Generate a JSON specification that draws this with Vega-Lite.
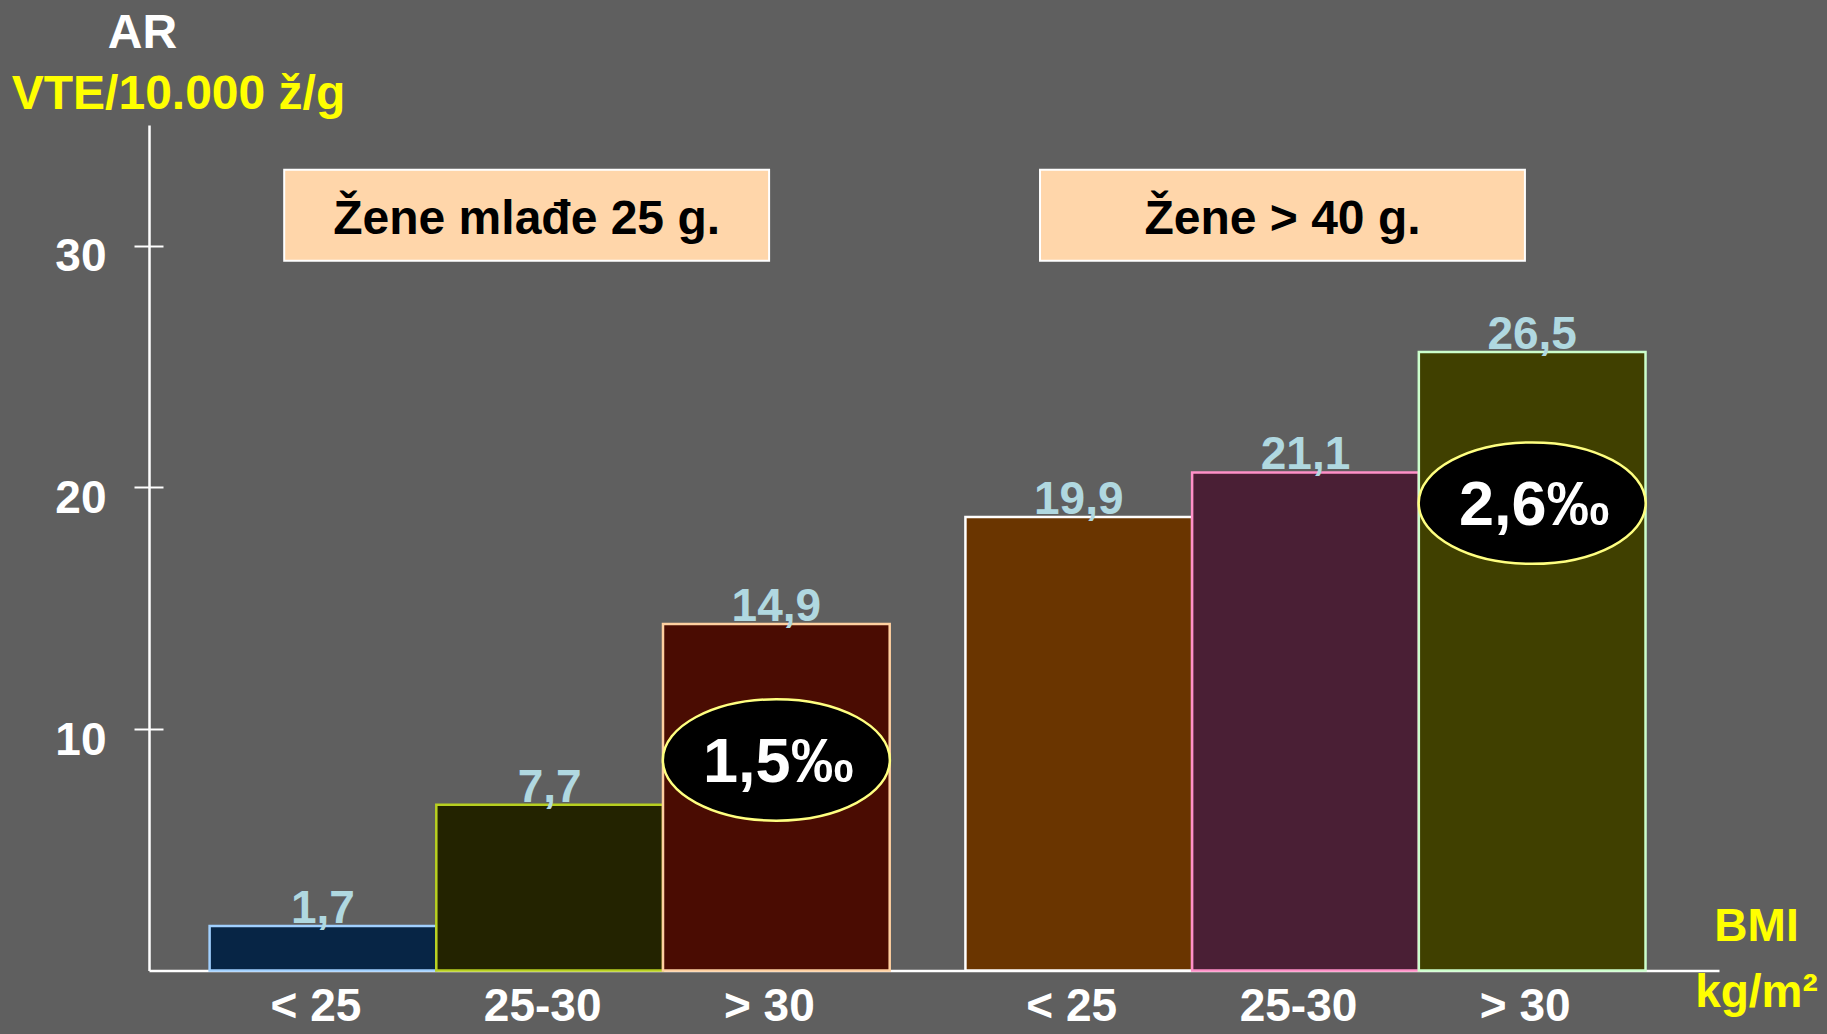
{
  "$schema": "https://vega.github.io/schema/vega-lite/v6.json",
  "width": 1570,
  "height": 845.6,
  "autosize": {"type": "none"},
  "padding": {"left": 149, "top": 125, "right": 108, "bottom": 63.4},
  "background": "#5f5f5f",
  "config": {
    "view": {"stroke": null},
    "font": "Liberation Sans",
    "text": {"font": "Liberation Sans", "fontWeight": "bold"}
  },
  "datasets": {
    "bars": [
      {"group": "Žene mlađe 25 g.", "bmi": "< 25", "value": 1.85, "label": "1,7"},
      {"group": "Žene mlađe 25 g.", "bmi": "25-30", "value": 6.86, "label": "7,7"},
      {"group": "Žene mlađe 25 g.", "bmi": "> 30", "value": 14.35, "label": "14,9"},
      {"group": "Žene > 40 g.", "bmi": "< 25", "value": 18.77, "label": "19,9"},
      {"group": "Žene > 40 g.", "bmi": "25-30", "value": 20.62, "label": "21,1"},
      {"group": "Žene > 40 g.", "bmi": "> 30", "value": 25.6, "label": "26,5"}
    ],
    "risks": [
      {"group": "Žene mlađe 25 g.", "bmi": "> 30", "y": 8.72, "risk": "1,5‰"},
      {"group": "Žene > 40 g.", "bmi": "> 30", "y": 19.35, "risk": "2,6‰"}
    ],
    "groups": [
      {"group": "Žene mlađe 25 g."},
      {"group": "Žene > 40 g."}
    ]
  },
  "encoding": {
    "x": {
      "field": "group",
      "type": "nominal",
      "sort": ["Žene mlađe 25 g.", "Žene > 40 g."],
      "scale": {"domain": ["Žene mlađe 25 g.", "Žene > 40 g."], "paddingInner": 0.1002, "paddingOuter": 0.0887, "align": 0.452},
      "axis": {
        "labels": false,
        "ticks": false,
        "domainColor": "#ffffff",
        "domainWidth": 2.5,
        "title": ["BMI", "kg/m²"],
        "titleColor": "#ffff00",
        "titleFont": "Liberation Sans",
        "titleFontWeight": "bold",
        "titleFontSize": 46,
        "titleAlign": "center",
        "titleBaseline": "alphabetic",
        "titleLineHeight": 66,
        "titleX": 1607,
        "titleY": -30
      }
    }
  },
  "resolve": {"axis": {"y": "independent"}},
  "layer": [
    {
      "data": {"name": "bars"},
      "mark": {"type": "bar", "strokeWidth": 2.5},
      "encoding": {
        "xOffset": {"field": "bmi", "type": "nominal", "scale": {"domain": ["< 25", "25-30", "> 30"], "paddingInner": 0, "paddingOuter": 0}},
        "y": {
          "field": "value",
          "type": "quantitative",
          "scale": {"domain": [0, 35], "nice": false, "zero": true},
          "axis": {
            "orient": "left",
            "values": [10, 20, 30],
            "grid": false,
            "domainColor": "#ffffff",
            "domainWidth": 2.5,
            "tickColor": "#ffffff",
            "tickWidth": 2,
            "tickSize": 15,
            "labelColor": "#ffffff",
            "labelFont": "Liberation Sans",
            "labelFontWeight": "bold",
            "labelFontSize": 46,
            "labelPadding": 28,
            "labelBaseline": "middle",
            "labelOffset": 11,
            "title": "VTE/10.000 ž/g",
            "titleColor": "#ffff00",
            "titleFont": "Liberation Sans",
            "titleFontWeight": "bold",
            "titleFontSize": 48,
            "titleAngle": 0,
            "titleAlign": "center",
            "titleBaseline": "alphabetic",
            "titleX": 29,
            "titleY": -17
          }
        },
        "fill": {
          "field": "label",
          "type": "nominal",
          "scale": {"domain": ["1,7", "7,7", "14,9", "19,9", "21,1", "26,5"], "range": ["#072545", "#232300", "#4a0c02", "#6a3500", "#4a1f35", "#404000"]},
          "legend": null
        },
        "stroke": {
          "field": "label",
          "type": "nominal",
          "scale": {"domain": ["1,7", "7,7", "14,9", "19,9", "21,1", "26,5"], "range": ["#a0d0ff", "#b8d020", "#ffd0a0", "#ffffff", "#ff90c8", "#ccffcc"]},
          "legend": null
        }
      }
    },
    {
      "data": {"name": "bars"},
      "mark": {"type": "text", "baseline": "alphabetic", "dy": -3, "fontSize": 46, "color": "#b0d8e0"},
      "encoding": {
        "xOffset": {"field": "bmi", "type": "nominal"},
        "y": {
          "field": "value",
          "type": "quantitative",
          "axis": {
            "orient": "left",
            "values": [10, 20, 30],
            "grid": false,
            "domain": false,
            "labels": false,
            "tickColor": "#ffffff",
            "tickWidth": 2,
            "tickSize": -14,
            "title": "AR",
            "titleColor": "#ffffff",
            "titleFont": "Liberation Sans",
            "titleFontWeight": "bold",
            "titleFontSize": 48,
            "titleAngle": 0,
            "titleAlign": "center",
            "titleBaseline": "alphabetic",
            "titleX": -7,
            "titleY": -78
          }
        },
        "text": {"field": "label"}
      }
    },
    {
      "data": {"name": "bars"},
      "mark": {"type": "text", "baseline": "alphabetic", "dy": 50, "dx": -7, "fontSize": 46, "color": "#ffffff"},
      "encoding": {
        "xOffset": {"field": "bmi", "type": "nominal"},
        "y": {"datum": 0, "type": "quantitative", "axis": null},
        "text": {"field": "bmi"}
      }
    },
    {
      "data": {"name": "groups"},
      "mark": {"type": "bar", "width": {"band": 0.713}, "xOffset": -23, "fill": "#ffd6aa", "stroke": "#ffffff", "strokeWidth": 2},
      "encoding": {
        "y": {"datum": 29.38, "type": "quantitative", "axis": null},
        "y2": {"datum": 33.15}
      }
    },
    {
      "data": {"name": "groups"},
      "mark": {"type": "text", "xOffset": -23, "baseline": "middle", "dy": 5, "fontSize": 48, "color": "#000000"},
      "encoding": {
        "y": {"datum": 31.27, "type": "quantitative", "axis": null},
        "text": {"field": "group"}
      }
    },
    {
      "data": {"name": "risks"},
      "mark": {
        "type": "point",
        "filled": true,
        "fill": "#000000",
        "opacity": 1,
        "stroke": "#ffff80",
        "strokeWidth": 2.5,
        "size": 51529,
        "shape": "M -1 0 C -1 -0.2955 -0.5523 -0.535 0 -0.535 C 0.5523 -0.535 1 -0.2955 1 0 C 1 0.2955 0.5523 0.535 0 0.535 C -0.5523 0.535 -1 0.2955 -1 0 Z"
      },
      "encoding": {
        "xOffset": {"field": "bmi", "type": "nominal"},
        "y": {"field": "y", "type": "quantitative", "axis": null}
      }
    },
    {
      "data": {"name": "risks"},
      "mark": {"type": "text", "baseline": "middle", "dy": 3, "dx": 2, "fontSize": 63, "color": "#ffffff"},
      "encoding": {
        "xOffset": {"field": "bmi", "type": "nominal"},
        "y": {"field": "y", "type": "quantitative", "axis": null},
        "text": {"field": "risk"}
      }
    }
  ]
}
